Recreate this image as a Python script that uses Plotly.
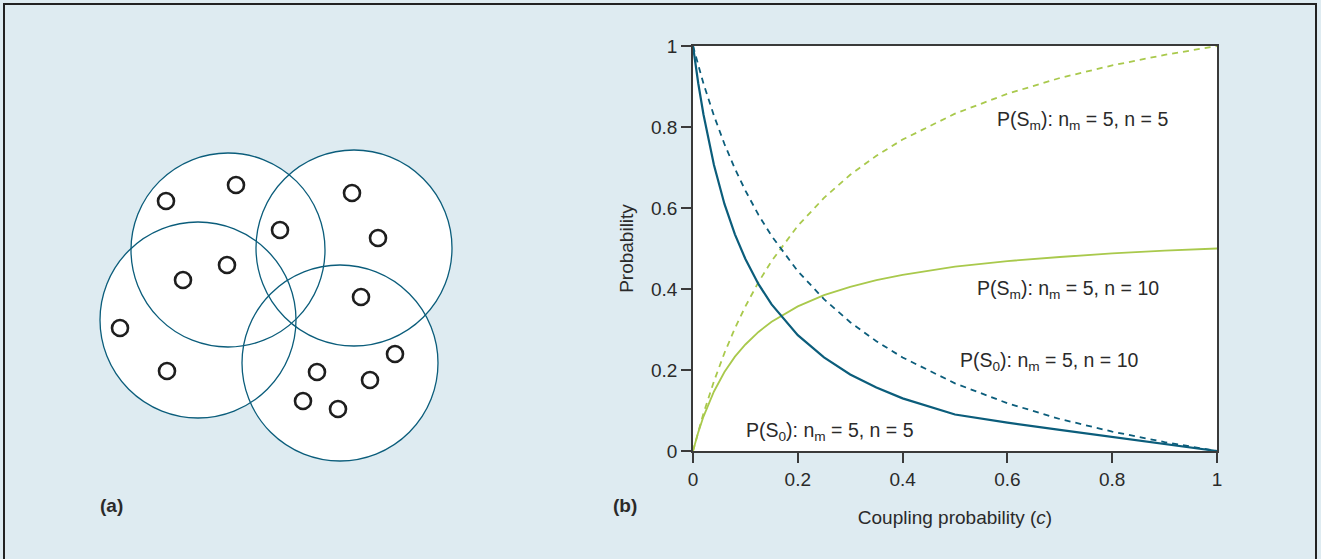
import plotly.graph_objects as go

# ---------------- data ----------------
c_vals = [0, 0.01, 0.02, 0.04, 0.06, 0.08, 0.1, 0.125, 0.15, 0.2, 0.25, 0.3,
          0.35, 0.4, 0.5, 0.6, 0.7, 0.8, 0.9, 1.0]
p_s0_solid = [1.0, 0.908, 0.831, 0.706, 0.610, 0.535, 0.474, 0.412, 0.362, 0.286,
              0.231, 0.189, 0.157, 0.130, 0.090, 0.070, 0.052, 0.035, 0.017, 0.0]
p_s0_dash = [1.0, 0.952, 0.907, 0.828, 0.758, 0.697, 0.643, 0.583, 0.531, 0.444,
             0.375, 0.318, 0.271, 0.231, 0.167, 0.118, 0.079, 0.048, 0.022, 0.0]
p_sm_dash = [0.0, 0.048, 0.093, 0.172, 0.242, 0.303, 0.357, 0.417, 0.469, 0.556,
             0.625, 0.682, 0.729, 0.769, 0.833, 0.882, 0.921, 0.952, 0.978, 1.0]
p_sm_solid = [0.0, 0.046, 0.085, 0.147, 0.195, 0.233, 0.263, 0.294, 0.319, 0.357,
              0.385, 0.405, 0.422, 0.435, 0.455, 0.469, 0.479, 0.488, 0.495, 0.5]

tick_vals = [0, 0.2, 0.4, 0.6, 0.8, 1]
tick_text = ["0", "0.2", "0.4", "0.6", "0.8", "1"]

# panel (a): big circles (centre x, centre y, radius) and small nodes
circle_cx = [228, 354, 198, 340]
circle_cy = [250, 248, 320, 363]
circle_r = [97, 98, 98, 98]
node_x = [166, 236, 280, 352, 378, 183, 227, 120, 361, 167, 317, 395, 370, 303, 338]
node_y = [201, 185, 230, 193, 238, 280, 265, 328, 297, 371, 372, 354, 380, 401, 409]

# ---------------- style ----------------
W, H = 1321, 559
AW = 560  # width of the panel (a) drawing region
BG = "#deebf1"
TEAL = "#0b5d7b"
GREEN = "#a9c94c"
TXT = "#2a2a2a"
FONT = "Liberation Sans, Arial, sans-serif"

fig = go.Figure()

fig.add_trace(go.Scatter(x=c_vals, y=p_sm_dash, mode="lines",
                         line=dict(color=GREEN, width=1.8, dash="6px,5px"),
                         xaxis="x", yaxis="y", showlegend=False))
fig.add_trace(go.Scatter(x=c_vals, y=p_sm_solid, mode="lines",
                         line=dict(color=GREEN, width=1.8),
                         xaxis="x", yaxis="y", showlegend=False))
fig.add_trace(go.Scatter(x=c_vals, y=p_s0_dash, mode="lines",
                         line=dict(color=TEAL, width=1.8, dash="6px,5px"),
                         xaxis="x", yaxis="y", showlegend=False))
fig.add_trace(go.Scatter(x=c_vals, y=p_s0_solid, mode="lines",
                         line=dict(color=TEAL, width=2.2),
                         xaxis="x", yaxis="y", showlegend=False))

# panel (a) nodes
fig.add_trace(go.Scatter(x=node_x, y=node_y, mode="markers",
                         marker=dict(symbol="circle-open", size=16,
                                     line=dict(color="#1e1e1e", width=2.6),
                                     color="#1e1e1e"),
                         xaxis="x2", yaxis="y2", showlegend=False))

shapes = []
# white plot area for panel (b)
shapes.append(dict(type="rect", xref="x domain", yref="y domain", x0=0, x1=1, y0=0, y1=1,
                   fillcolor="white", line=dict(width=0), layer="below"))
# outer frame
shapes.append(dict(type="rect", xref="paper", yref="paper",
                   x0=4 / W, x1=1316 / W, y0=-0.02, y1=1 - 4 / H,
                   line=dict(color="#222222", width=2), fillcolor="rgba(0,0,0,0)", layer="below"))
# circles: fills first, outlines after
for cx, cy, r in zip(circle_cx, circle_cy, circle_r):
    shapes.append(dict(type="circle", xref="x2", yref="y2",
                       x0=cx - r, x1=cx + r, y0=cy - r, y1=cy + r,
                       fillcolor="white", line=dict(width=0), layer="below"))
for cx, cy, r in zip(circle_cx, circle_cy, circle_r):
    shapes.append(dict(type="circle", xref="x2", yref="y2",
                       x0=cx - r, x1=cx + r, y0=cy - r, y1=cy + r,
                       fillcolor="rgba(0,0,0,0)", line=dict(color=TEAL, width=1.3), layer="below"))

ann_font = dict(family=FONT, size=19.5, color=TXT)
lab_font = dict(family=FONT, size=19, color=TXT)
annotations = [
    dict(x=0.576, y=0.817, xref="x", yref="y", xanchor="left", yanchor="middle",
         text="P(S<sub>m</sub>): n<sub>m</sub> = 5, n = 5", showarrow=False, font=ann_font),
    dict(x=0.538, y=0.398, xref="x", yref="y", xanchor="left", yanchor="middle",
         text="P(S<sub>m</sub>): n<sub>m</sub> = 5, n = 10", showarrow=False, font=ann_font),
    dict(x=0.506, y=0.220, xref="x", yref="y", xanchor="left", yanchor="middle",
         text="P(S<sub>0</sub>): n<sub>m</sub> = 5, n = 10", showarrow=False, font=ann_font),
    dict(x=0.097, y=0.047, xref="x", yref="y", xanchor="left", yanchor="middle",
         text="P(S<sub>0</sub>): n<sub>m</sub> = 5, n = 5", showarrow=False, font=ann_font),
    dict(x=111 / W, y=1 - 505 / H, xref="paper", yref="paper", xanchor="center", yanchor="middle",
         text="<b>(a)</b>", showarrow=False, font=lab_font),
    dict(x=625 / W, y=1 - 505 / H, xref="paper", yref="paper", xanchor="center", yanchor="middle",
         text="<b>(b)</b>", showarrow=False, font=lab_font),
]

axis_common = dict(showgrid=False, zeroline=False, showline=True, mirror=True,
                   linecolor="#3a3a3a", linewidth=1.6, ticks="outside", ticklen=10,
                   tickwidth=1.5, tickcolor="#3a3a3a", automargin=False,
                   tickfont=dict(family=FONT, size=19, color=TXT),
                   tickvals=tick_vals, ticktext=tick_text)

fig.update_layout(
    template="none",
    width=W, height=H,
    margin=dict(l=0, r=0, t=0, b=0, pad=0, autoexpand=False),
    paper_bgcolor=BG, plot_bgcolor="rgba(0,0,0,0)",
    font=dict(family=FONT, color=TXT),
    xaxis=dict(domain=[693 / W, 1217 / W], range=[0, 1], anchor="y",
               title=dict(text="Coupling probability (<i>c</i>)",
                          font=dict(family=FONT, size=19, color=TXT), standoff=22),
               **axis_common),
    yaxis=dict(domain=[1 - 451 / H, 1 - 46 / H], range=[0, 1], anchor="x",
               title=dict(text="Probability", font=dict(family=FONT, size=19, color=TXT),
                          standoff=12),
               **axis_common),
    xaxis2=dict(domain=[0, AW / W], range=[0, AW], anchor="y2", visible=False),
    yaxis2=dict(domain=[0, 1], range=[H, 0], anchor="x2", visible=False),
    shapes=shapes,
    annotations=annotations,
)

fig.write_html("out.html", config={"displayModeBar": False},
               post_script="document.body.style.margin='0';document.body.style.overflow='hidden';")
